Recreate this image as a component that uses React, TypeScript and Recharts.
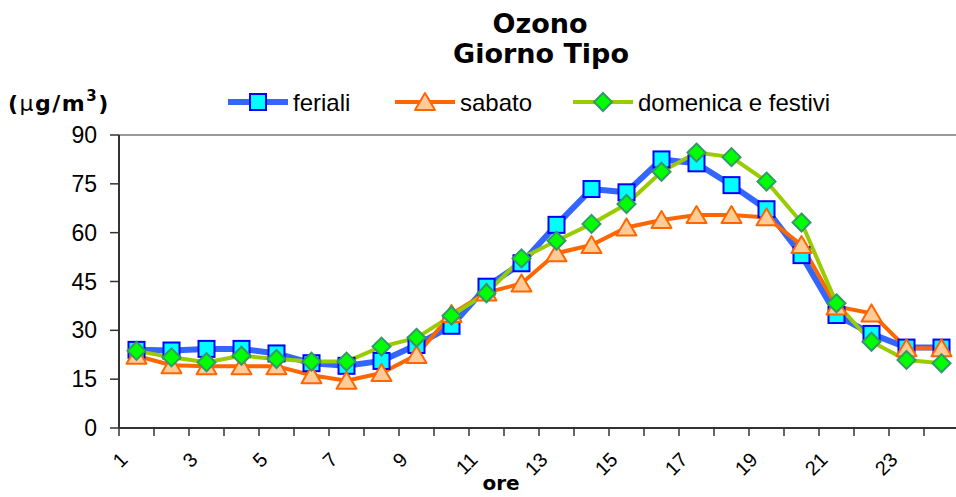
import React from "react";
import {
  LineChart,
  Line,
  XAxis,
  YAxis,
  ReferenceLine,
} from "recharts";

// ore del giorno
const hours = [1, 2, 3, 4, 5, 6, 7, 8, 9, 10, 11, 12, 13, 14, 15, 16, 17, 18, 19, 20, 21, 22, 23, 24];

const feriali = [24.0, 23.8, 24.3, 24.3, 22.9, 19.9, 19.1, 20.6, 25.5, 31.4, 43.4, 50.6, 62.4, 73.4, 72.4, 82.5, 81.3, 74.6, 67.2, 53.1, 34.7, 28.9, 24.7, 24.7];
const sabato = [22.2, 19.3, 19.0, 19.0, 19.0, 16.2, 14.5, 16.9, 22.4, 35.0, 41.6, 44.4, 53.7, 56.2, 61.6, 63.9, 65.4, 65.4, 64.7, 56.2, 37.3, 35.2, 24.5, 24.5];
const domenica = [23.7, 21.7, 20.2, 22.2, 21.2, 20.4, 20.4, 25.0, 27.7, 34.5, 41.4, 52.1, 57.5, 62.7, 68.8, 78.7, 84.6, 83.2, 75.7, 63.1, 38.3, 26.5, 20.9, 19.9];

const yTicks = [0, 15, 30, 45, 60, 75, 90];
const seriesNames = ["feriali", "sabato", "domenica e festivi"];

const data = hours.map((h, i) => ({
  hour: h,
  feriali: feriali[i],
  sabato: sabato[i],
  domenica: domenica[i],
}));

// tick marks sit on category boundaries (Excel style)
const boundaries = hours.map((h) => h - 0.5).concat(hours[hours.length - 1] + 0.5);

const SquareDot = ({ cx, cy }: any) => (
  <rect x={cx - 8} y={cy - 8} width={16} height={16} fill="#00FFFF" stroke="#0000FF" strokeWidth={2} />
);

const TriangleDot = ({ cx, cy }: any) => (
  <polygon
    points={`${cx},${cy - 9} ${cx + 10},${cy + 8} ${cx - 10},${cy + 8}`}
    fill="#FFCC99"
    stroke="#FF6600"
    strokeWidth={2}
    strokeLinejoin="round"
  />
);

const DiamondDot = ({ cx, cy }: any) => (
  <polygon
    points={`${cx},${cy - 9} ${cx + 9},${cy} ${cx},${cy + 9} ${cx - 9},${cy}`}
    fill="#00FF00"
    stroke="#339966"
    strokeWidth={2}
  />
);

const series = [
  { key: "feriali", name: seriesNames[0], color: "#3366FF", width: 6, Dot: SquareDot },
  { key: "sabato", name: seriesNames[1], color: "#FF6600", width: 4, Dot: TriangleDot },
  { key: "domenica", name: seriesNames[2], color: "#99CC00", width: 4, Dot: DiamondDot },
];

const legendX = [228, 395, 573];

const HourTick = (props: any) => {
  const { x, y, payload } = props;
  const h = payload.value + 0.5;
  if (h % 2 === 0 || h > 24) return <g />;
  const ax = x + 5;
  const ay = y + 18;
  return (
    <text
      x={ax}
      y={ay}
      transform={`rotate(-45 ${ax} ${ay})`}
      textAnchor="end"
      dominantBaseline="central"
      fontFamily="Liberation Sans, Arial, sans-serif"
      fontSize={20}
      fill="#000"
    >
      {h}
    </text>
  );
};

export default function App() {
  return (
    <div
      style={{
        position: "absolute",
        left: 0,
        top: 0,
        width: 956,
        height: 497,
        overflow: "hidden",
        background: "#fff",
      }}
    >
      <LineChart
        width={959}
        height={497}
        data={data}
        margin={{ top: 135, right: 0, left: 0, bottom: 0 }}
      >
        <XAxis
          dataKey="hour"
          type="number"
          domain={[0.5, 24.5]}
          ticks={boundaries}
          interval={0}
          height={69}
          tickSize={8}
          tickMargin={2}
          axisLine={{ stroke: "#333", strokeWidth: 2 }}
          tickLine={{ stroke: "#333", strokeWidth: 1.5 }}
          tick={<HourTick />}
        />
        <YAxis
          domain={[0, 90]}
          ticks={yTicks}
          interval={0}
          width={119}
          tickSize={9}
          tickMargin={13}
          axisLine={{ stroke: "#333", strokeWidth: 2 }}
          tickLine={{ stroke: "#333", strokeWidth: 1.5 }}
          tick={{ fill: "#000", fontSize: 23, fontFamily: "Liberation Sans, Arial, sans-serif" }}
        />
        <ReferenceLine y={90} stroke="#999" strokeWidth={2} />
        {series.map((s) => (
          <Line
            key={s.key}
            type="linear"
            dataKey={s.key}
            name={s.name}
            stroke={s.color}
            strokeWidth={s.width}
            dot={(p: any) => <s.Dot key={`${s.key}-${p.index}`} cx={p.cx} cy={p.cy} />}
            activeDot={false}
            isAnimationActive={false}
          />
        ))}
      </LineChart>
      <svg
        width={956}
        height={497}
        style={{ position: "absolute", left: 0, top: 0, pointerEvents: "none" }}
      >
        <g fontFamily="DejaVu Sans, Verdana, sans-serif" fontWeight="bold" fill="#000" textAnchor="middle">
          <text x={540} y={33} fontSize={27}>Ozono</text>
          <text x={541} y={63} fontSize={27}>Giorno Tipo</text>
          <text x={501} y={490} fontSize={20}>ore</text>
        </g>
        <text x={8} y={111} fontFamily="DejaVu Sans, Verdana, sans-serif" fontWeight="bold" fontSize={22} letterSpacing={1.5} fill="#000">
          (<tspan fontWeight="normal">μ</tspan>g/m<tspan fontSize={15} dy={-10}>3</tspan><tspan dy={10}>)</tspan>
        </text>
        {series.map((s, i) => {
          const x0 = legendX[i];
          const Dot = s.Dot;
          return (
            <g key={s.key}>
              <line x1={x0} y1={102} x2={x0 + 60} y2={102} stroke={s.color} strokeWidth={s.width} />
              <Dot cx={x0 + 30} cy={102} />
              <text
                x={x0 + 65}
                y={111}
                fontFamily="Liberation Sans, Arial, sans-serif"
                fontSize={24}
                fill="#000"
              >
                {s.name}
              </text>
            </g>
          );
        })}
      </svg>
    </div>
  );
}
